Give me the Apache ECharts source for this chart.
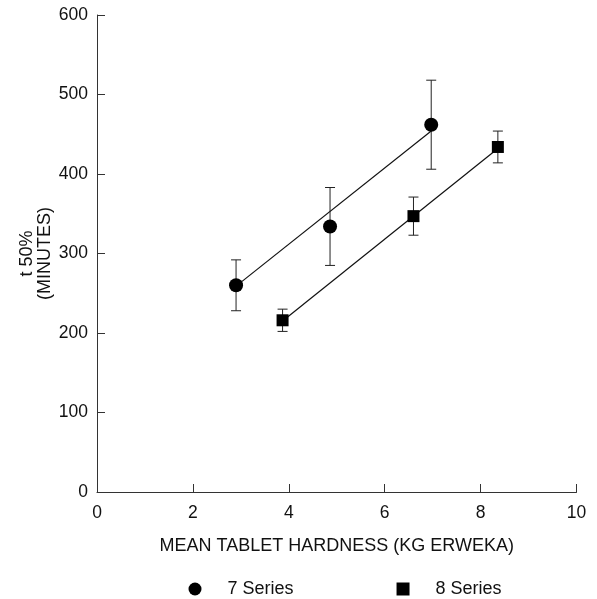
<!DOCTYPE html>
<html>
<head>
<meta charset="utf-8">
<script src="https://cdn.jsdelivr.net/npm/echarts@6/dist/echarts.min.js"></script>
<style>
  html, body { margin: 0; padding: 0; background: #fff; }
  #chart { width: 597px; height: 599px; }
</style>
</head>
<body>
<div id="chart"></div>
<script>
// Mean tablet hardness (kg Erweka) vs. t50% (minutes)
const hardness7 = [2.9, 4.86, 6.97];
const t50_7 = [260, 334, 462];
const err7 = [32, 49, 56];

const hardness8 = [3.87, 6.6, 8.36];
const t50_8 = [216, 347, 434];
const err8 = [14, 24, 20];

// Fitted line end points for each series
const fit7X = [2.9, 6.97];
const fit7Y = [259, 454];
const fit8X = [3.87, 8.36];
const fit8Y = [215, 432];

const xTicks = [0, 2, 4, 6, 8, 10];
const yTicks = [0, 100, 200, 300, 400, 500, 600];

const FONT = "'Liberation Sans', Arial, Helvetica, sans-serif";
const INK = '#111';

const pts = (xs, ys) => xs.map((x, i) => [x, ys[i]]);
const bars = (xs, ys, es) => xs.map((x, i) => [x, ys[i] - es[i], ys[i] + es[i]]);

function renderErrorBar(params, api) {
  const x = api.value(0);
  const lo = api.coord([x, api.value(1)]);
  const hi = api.coord([x, api.value(2)]);
  const half = 5;
  const style = { stroke: '#222', lineWidth: 1 };
  return {
    type: 'group',
    children: [
      { type: 'line', shape: { x1: lo[0], y1: lo[1], x2: hi[0], y2: hi[1] }, style },
      { type: 'line', shape: { x1: hi[0] - half, y1: hi[1], x2: hi[0] + half, y2: hi[1] }, style },
      { type: 'line', shape: { x1: lo[0] - half, y1: lo[1], x2: lo[0] + half, y2: lo[1] }, style }
    ]
  };
}

const chart = echarts.init(document.getElementById('chart'), null, { renderer: 'canvas' });

chart.setOption({
  backgroundColor: '#fff',
  animation: false,
  textStyle: { fontFamily: FONT, color: INK },
  grid: { left: 97, right: 20.5, top: 15, bottom: 107, containLabel: false },
  legend: {
    left: 188.5,
    top: 580,
    padding: 0,
    itemWidth: 13,
    itemHeight: 13,
    itemGap: 103,
    textStyle: { fontSize: 18, color: INK, fontFamily: FONT, padding: [0, 0, 0, 21] },
    itemStyle: { opacity: 1 },
    data: [
      { name: '7 Series', icon: 'circle' },
      { name: '8 Series', icon: 'rect' }
    ]
  },
  xAxis: {
    type: 'value',
    min: xTicks[0],
    max: xTicks[xTicks.length - 1],
    interval: xTicks[1] - xTicks[0],
    name: 'MEAN TABLET HARDNESS (KG ERWEKA)',
    nameLocation: 'middle',
    nameGap: 45,
    nameTextStyle: { fontSize: 18, color: INK, fontFamily: FONT },
    axisLine: { lineStyle: { color: '#333', width: 1 } },
    axisTick: { inside: true, length: 8, lineStyle: { color: '#333' } },
    axisLabel: { fontSize: 17.5, color: INK, margin: 12, fontFamily: FONT },
    splitLine: { show: false }
  },
  yAxis: {
    type: 'value',
    min: yTicks[0],
    max: yTicks[yTicks.length - 1],
    interval: yTicks[1] - yTicks[0],
    name: 't 50%\n(MINUTES)',
    nameLocation: 'middle',
    nameGap: 43,
    nameMoveOverlap: false,
    nameTextStyle: { fontSize: 18, color: INK, fontFamily: FONT, lineHeight: 18 },
    axisLine: { show: true, lineStyle: { color: '#333', width: 1 } },
    axisTick: { show: true, inside: true, length: 8, lineStyle: { color: '#333' } },
    axisLabel: { fontSize: 17.5, color: INK, margin: 9, fontFamily: FONT },
    splitLine: { show: false }
  },
  series: [
    {
      type: 'line',
      data: pts(fit7X, fit7Y),
      symbol: 'none',
      lineStyle: { color: '#111', width: 1.2 },
      silent: true,
      z: 1
    },
    {
      type: 'line',
      data: pts(fit8X, fit8Y),
      symbol: 'none',
      lineStyle: { color: '#111', width: 1.2 },
      silent: true,
      z: 1
    },
    {
      type: 'custom',
      renderItem: renderErrorBar,
      data: bars(hardness7, t50_7, err7),
      encode: { x: 0, y: [1, 2] },
      z: 2
    },
    {
      type: 'custom',
      renderItem: renderErrorBar,
      data: bars(hardness8, t50_8, err8),
      encode: { x: 0, y: [1, 2] },
      z: 2
    },
    {
      name: '7 Series',
      type: 'scatter',
      data: pts(hardness7, t50_7),
      symbol: 'circle',
      symbolSize: 14,
      itemStyle: { color: '#000', opacity: 1 },
      z: 3
    },
    {
      name: '8 Series',
      type: 'scatter',
      data: pts(hardness8, t50_8),
      symbol: 'rect',
      symbolSize: 12,
      itemStyle: { color: '#000', opacity: 1 },
      z: 3
    }
  ]
});
</script>
</body>
</html>
